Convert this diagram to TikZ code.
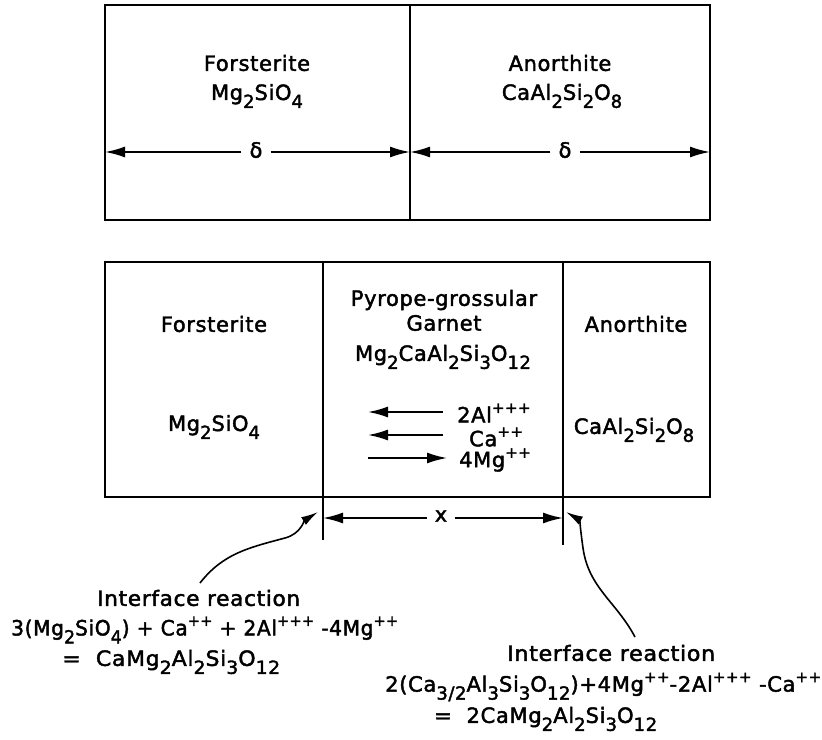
\documentclass[tikz,border=0pt]{standalone}
\usepackage{fontspec}
\setmainfont{DejaVu Sans}[LetterSpace=3, FakeBold=2]
\usetikzlibrary{arrows.meta}
\newcommand\lo[1]{\raisebox{-0.38em}{\fontsize{18}{18}\selectfont #1}}
\newcommand\hi[1]{\raisebox{0.45em}{\fontsize{15}{15}\selectfont #1}}
\newsavebox\fitbox
\newcommand\fitto[2]{\sbox\fitbox{#2}\pgfmathsetmacro\fitsc{#1/(\the\wd\fitbox)}\scalebox{\fitsc}[1]{\usebox\fitbox}}
\tikzset{
  boxline/.style={draw, line width=2pt},
  lbl/.style={font=\fontsize{21}{25}\selectfont, inner sep=0pt, align=center},
  eq/.style={font=\fontsize{21}{25}\selectfont, inner sep=0pt, anchor=west},
  dimarrow/.style={line width=1.8pt, -{Latex[length=20pt,width=11pt]}},
  curvarrow/.style={line width=1.6pt, -{Latex[length=17pt,width=9pt]}},
  tick/.style={line width=1.8pt},
}
\begin{document}
\begin{tikzpicture}[x=1pt,y=-1pt]
\useasboundingbox (0,0) rectangle (822,739);
% ---------- top box ----------
\coordinate (TA) at (105,5);
\coordinate (TB) at (710,220);
\coordinate (TD1) at (410,5);
\coordinate (TD2) at (410,220);
\draw[boxline] (TA) rectangle (TB);
\draw[boxline] (TD1) -- (TD2);
\node[lbl] (tfo) at (257,63) {Forsterite};
\node[lbl] (tfof) at (257,96) {Mg\lo{2}SiO\lo{4}};
\node[lbl] (tan) at (560,63) {Anorthite};
\node[lbl] (tanf) at (562,96) {CaAl\lo{2}Si\lo{2}O\lo{8}};
\coordinate (dl) at (105,152);
\coordinate (dm) at (410,152);
\coordinate (dr) at (710,152);
\node[lbl, inner sep=8pt] (d1) at (256,150) {δ};
\node[lbl, inner sep=8pt] (d2) at (565,150) {δ};
\draw[dimarrow] (d1.west |- dl) -- (dl);
\draw[dimarrow] (d1.east |- dl) -- (dm);
\draw[dimarrow] (d2.west |- dl) -- (dm);
\draw[dimarrow] (d2.east |- dl) -- (dr);
% ---------- bottom box ----------
\coordinate (BA) at (105,262);
\coordinate (BB) at (710,497);
\coordinate (BL1) at (323,262);
\coordinate (BL2) at (323,497);
\coordinate (BR1) at (563,262);
\coordinate (BR2) at (563,497);
\draw[boxline] (BA) rectangle (BB);
\draw[boxline] (BL1) -- (BL2);
\draw[boxline] (BR1) -- (BR2);
\node[lbl] (bfo) at (214,324) {Forsterite};
\node[lbl] (bfof) at (214,427) {Mg\lo{2}SiO\lo{4}};
\node[lbl] (bpy) at (444,300) {Pyrope-grossular};
\node[lbl] (bga) at (444,323) {Garnet};
\node[lbl] (bgaf) at (443,357) {Mg\lo{2}CaAl\lo{2}Si\lo{3}O\lo{12}};
\node[lbl] (ban) at (636,324) {Anorthite};
\node[lbl] (banf) at (634,430) {CaAl\lo{2}Si\lo{2}O\lo{8}};
% ion arrows
\node[eq] (ial) at (457,413) {2Al\hi{+++}};
\node[eq] (ica) at (469,437) {Ca\hi{++}};
\node[eq] (img) at (459,460) {4Mg\hi{++}};
\coordinate (a1r) at (443,412);
\coordinate (a1l) at (368,412);
\coordinate (a2r) at (443,435);
\coordinate (a2l) at (368,435);
\coordinate (a3r) at (447,458);
\coordinate (a3l) at (368,458);
\draw[dimarrow] (a1r) -- (a1l);
\draw[dimarrow] (a2r) -- (a2l);
\draw[dimarrow] (a3l) -- (a3r);
% ticks and x dimension
\coordinate (tk1) at (323,540);
\coordinate (tk2) at (563,545);
\draw[tick] (BL2) -- (tk1);
\draw[tick] (BR2) -- (tk2);
\node[lbl, inner sep=8pt] (xl) at (441,516) {x};
\coordinate (xa) at (323,518);
\coordinate (xb) at (563,518);
\draw[dimarrow] (xl.west |- xa) -- (xa);
\draw[dimarrow] (xl.east |- xa) -- (xb);
% ---------- interface reactions ----------
\node[eq] (ir1) at (97,598) {\fitto{203}{Interface reaction}};
\node[eq] (eq1) at (11,630) {\fitto{387}{3(Mg\lo{2}SiO\lo{4}) + Ca\hi{++} + 2Al\hi{+++} -4Mg\hi{++}}};
\node[eq] (eq1b) at (62,662) {\fitto{218}{= \ CaMg\lo{2}Al\lo{2}Si\lo{3}O\lo{12}}};
\node[eq] (ir2) at (507,653) {\fitto{208}{Interface reaction}};
\node[eq] (eq2) at (385,687) {\fitto{436}{2(Ca\lo{3/2}Al\lo{3}Si\lo{3}O\lo{12})+4Mg\hi{++}-2Al\hi{+++} -Ca\hi{++}}};
\node[eq] (eq2b) at (434,719) {\fitto{223}{= \ 2CaMg\lo{2}Al\lo{2}Si\lo{3}O\lo{12}}};
% curved leaders
\coordinate (cL) at (200,583);
\coordinate (tipL) at (318,512);
\coordinate (cR) at (635,637);
\coordinate (tipR) at (566,512);
\draw[curvarrow] (cL) to[out=52,in=195] (285,538) to[out=15,in=212] (tipL);
\draw[curvarrow] (cR) to[out=118,in=-82] (583,548) to[out=98,in=-30] (tipR);
\end{tikzpicture}
\end{document}
